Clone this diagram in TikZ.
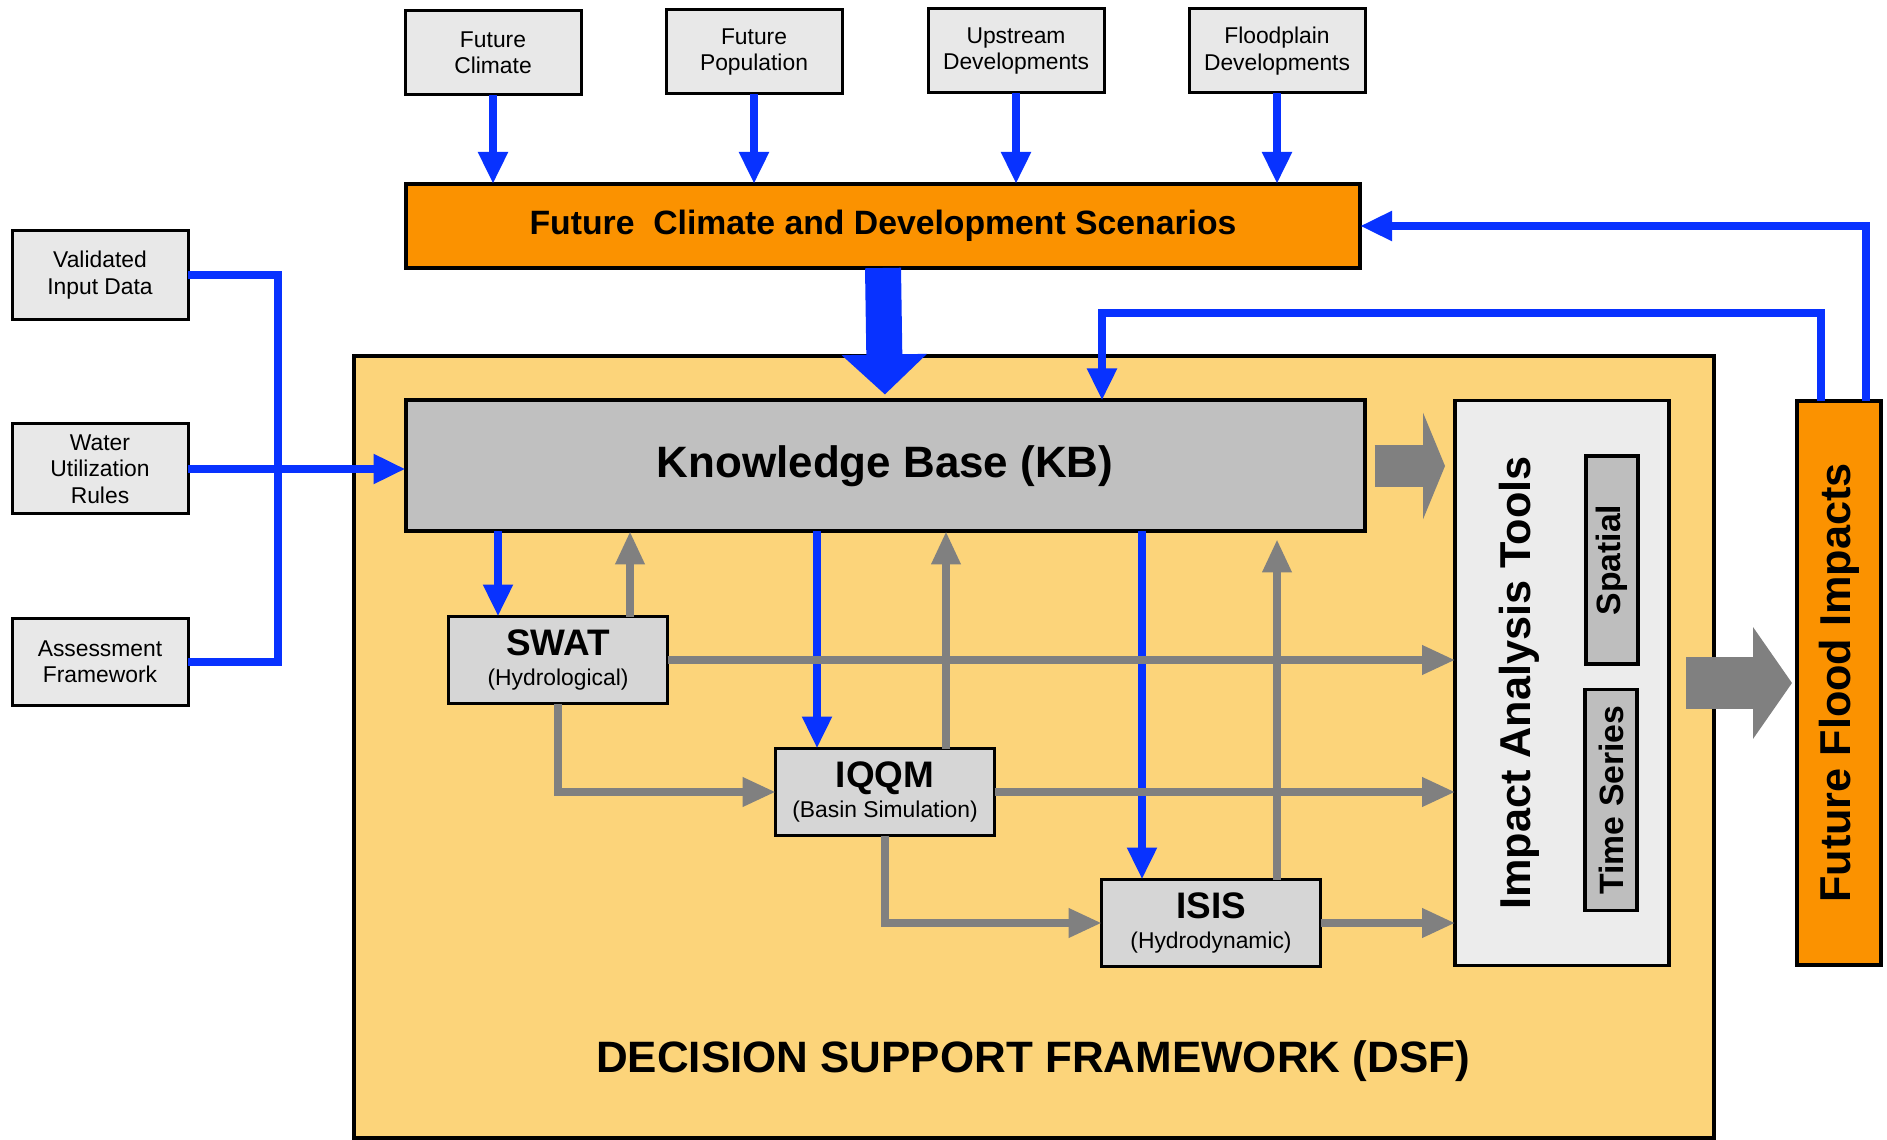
\documentclass[tikz,border=0pt]{standalone}
\usepackage{fontspec}
\setmainfont{Liberation Sans}
\usetikzlibrary{arrows.meta}
\definecolor{scenorange}{RGB}{251,146,0}
\definecolor{dsfyellow}{RGB}{252,212,122}
\definecolor{kbgray}{RGB}{192,192,192}
\definecolor{boxgray}{RGB}{232,232,232}
\definecolor{modelgray}{RGB}{214,214,214}
\definecolor{iatgray}{RGB}{236,236,236}
\definecolor{subgray}{RGB}{190,190,190}
\definecolor{flowblue}{RGB}{8,50,255}
\definecolor{flowgray}{RGB}{128,128,128}
\begin{document}
\begin{tikzpicture}[x=0.1mm, y=-0.1mm]
\tikzstyle{every node}=[inner sep=0pt, outer sep=0pt, align=center];
\tikzstyle{inbox}=[draw, line width=0.3mm, fill=boxgray, minimum width=17.6mm, font=\fontsize{6.5}{7.5}\selectfont];
\tikzstyle{model}=[draw, line width=0.35mm, fill=modelgray, minimum width=21.9mm, minimum height=8.7mm, font=\bfseries\fontsize{10.5}{11.5}\selectfont];
\tikzstyle{subbox}=[draw, line width=0.35mm, fill=subgray, rotate=90, minimum height=5.2mm, font=\bfseries\fontsize{9.6}{11}\selectfont];
\tikzstyle{blueline}=[draw=flowblue, line width=0.85mm];
\tikzstyle{bluearrow}=[blueline, -{Triangle[length=3.2mm, width=2.8mm]}];
\tikzstyle{grayarrow}=[draw=flowgray, line width=0.72mm, -{Triangle[length=3.3mm, width=2.8mm]}];
\useasboundingbox (0,0) rectangle (1887,1140);
% scenario inputs
\node[inbox, minimum height=8.4mm] (fc) at (493,53) {Future\\Climate};
\node[inbox, minimum height=8.4mm] (fp) at (754,52) {Future\\Population};
\node[inbox, minimum height=8.4mm] (ud) at (1016,51) {Upstream\\Developments};
\node[inbox, minimum height=8.4mm] (fd) at (1277,51) {Floodplain\\Developments};
\node[draw, line width=0.4mm, fill=scenorange, minimum width=95.4mm, minimum height=8.4mm, font=\bfseries\fontsize{9.6}{11}\selectfont] (scen) at (883,226) {Future\ \ Climate and Development Scenarios};
% data inputs
\node[inbox, minimum height=8.9mm] (vid) at (100,275) {Validated\\Input Data};
\node[inbox, minimum height=9mm] (wur) at (100,469) {Water\\Utilization\\Rules};
\node[inbox, minimum height=8.7mm] (af) at (100,662) {Assessment\\Framework};
% framework
\node[draw, line width=0.45mm, fill=dsfyellow, minimum width=136mm, minimum height=78.2mm] (dsf) at (1034,747) {};
\node[font=\bfseries\fontsize{12.5}{14}\selectfont] (dsflab) at (1033,1061) {DECISION SUPPORT FRAMEWORK (DSF)};
\node[draw, line width=0.4mm, fill=kbgray, minimum width=95.9mm, minimum height=13.1mm, font=\bfseries\fontsize{12.5}{14}\selectfont] (kb) at (885,466) {Knowledge Base (KB)};
\node[model] (swat) at (558,660) {SWAT\\[-3pt]{\mdseries\fontsize{6.5}{7.5}\selectfont(Hydrological)}};
\node[model] (iqqm) at (885,792) {IQQM\\[-3pt]{\mdseries\fontsize{6.5}{7.5}\selectfont(Basin Simulation)}};
\node[model] (isis) at (1211,923) {ISIS\\[-3pt]{\mdseries\fontsize{6.5}{7.5}\selectfont(Hydrodynamic)}};
\node[draw, line width=0.35mm, fill=iatgray, minimum width=21.4mm, minimum height=56.5mm] (iat) at (1562,683) {};
\node[rotate=90, font=\bfseries\fontsize{12.3}{14}\selectfont] (iatlab) at (1519,683) {Impact Analysis Tools};
\node[subbox, minimum width=20.8mm] (spat) at (1612,560) {Spatial};
\node[subbox, minimum width=22.1mm] (ts) at (1611,800) {Time Series};
\node[draw, line width=0.4mm, fill=scenorange, rotate=90, minimum width=56.4mm, minimum height=8.4mm, font=\bfseries\fontsize{12.3}{14}\selectfont] (ffi) at (1839,683) {Future Flood Impacts};
\coordinate (spine) at (278,467);
\coordinate (fbk) at (1102,313);
% blue flows
\draw[bluearrow] (fc.south) -- (fc.south |- scen.north);
\draw[bluearrow] (fp.south) -- (fp.south |- scen.north);
\draw[bluearrow] (ud.south) -- (ud.south |- scen.north);
\draw[bluearrow] (fd.south) -- (fd.south |- scen.north);
\draw[draw=flowblue, line width=3.6mm, shorten >=0.6mm, -{Triangle[length=4mm, width=8.3mm]}] (scen.south) -- (kb.north);
\draw[blueline] (vid.east) -| (spine) |- (af.east);
\draw[bluearrow] (wur.east) -- (kb.west |- wur.east);
\draw[bluearrow] ([xshift=2.7mm]ffi.east) |- (scen.east);
\draw[bluearrow] ([xshift=-1.8mm]ffi.east) |- (fbk) -- (fbk |- kb.north);
\draw[bluearrow] ([xshift=-6mm]swat.north |- kb.south) -- ([xshift=-6mm]swat.north);
\draw[bluearrow] ([xshift=-6.8mm]iqqm.north |- kb.south) -- ([xshift=-6.8mm]iqqm.north);
\draw[bluearrow] ([xshift=-6.9mm]isis.north |- kb.south) -- ([xshift=-6.9mm]isis.north);
% gray flows
\draw[grayarrow] ([xshift=7.2mm]swat.north) -- ([xshift=7.2mm]swat.north |- kb.south);
\draw[grayarrow] ([xshift=6.1mm]iqqm.north) -- ([xshift=6.1mm]iqqm.north |- kb.south);
\draw[grayarrow, shorten >=0.8mm] ([xshift=6.6mm]isis.north) -- ([xshift=6.6mm]isis.north |- kb.south);
\draw[grayarrow] (swat.east) -- (swat.east -| iat.west);
\draw[grayarrow] (iqqm.east) -- (iqqm.east -| iat.west);
\draw[grayarrow] (isis.east) -- (isis.east -| iat.west);
\draw[grayarrow] (swat.south) |- (iqqm.west);
\draw[grayarrow] (iqqm.south) |- (isis.west);
\draw[draw=flowgray, line width=4.2mm, shorten <=1mm, shorten >=1mm, -{Triangle[length=2.2mm, width=10.6mm]}] (kb.east) -- (kb.east -| iat.west);
\draw[draw=flowgray, line width=5.2mm, shorten <=1.7mm, shorten >=0.5mm, -{Triangle[length=3.9mm, width=11mm]}] (iat.east) -- (iat.east -| ffi.north);
\end{tikzpicture}
\end{document}
